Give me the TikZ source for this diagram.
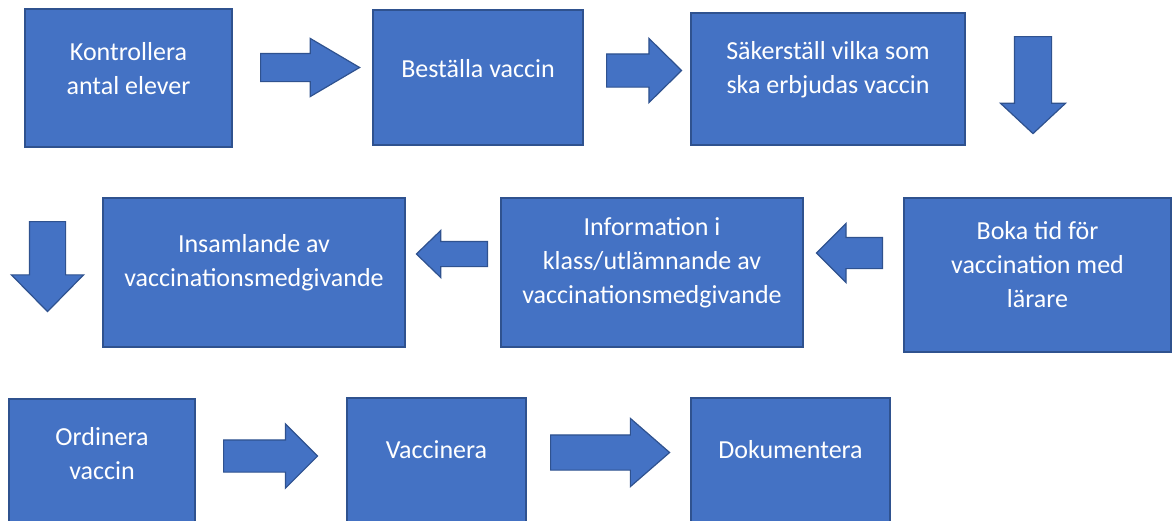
\documentclass[tikz,border=0pt]{standalone}
\usepackage{fontspec}
\setmainfont{Carlito}
\usetikzlibrary{shapes.arrows}
\definecolor{boxfill}{HTML}{4472C4}
\definecolor{boxline}{HTML}{2F528F}
\tikzset{
  box/.style={rectangle, draw=boxline, fill=boxfill, line width=1pt, inner sep=0pt},
  boxtext/.style={text=white, align=center, inner sep=0pt, font=\fontsize{13}{17}\selectfont},
  blockarrow/.style={single arrow, draw=boxline, fill=boxfill, line width=0.6pt, inner xsep=0pt, anchor=tail},
}
\begin{document}
\begin{tikzpicture}[x=0.5pt, y=-0.5pt]
\useasboundingbox (0,0) rectangle (1173,520);
\node[box, minimum width=103.5pt, minimum height=69pt] (b1) at (128.5,78){};
\node[boxtext] (t1) at (128.5,69){Kontrollera\\antal elever};
\node[box, minimum width=105pt, minimum height=67.5pt] (b2) at (478,77.5){};
\node[boxtext] (t2) at (478,69){Beställa vaccin};
\node[box, minimum width=137pt, minimum height=66pt] (b3) at (828,79){};
\node[boxtext] (t3) at (828,70){Säkerställ vilka som\\ska erbjudas vaccin};
\node[box, minimum width=133.5pt, minimum height=77pt] (b4) at (1037.5,275){};
\node[boxtext] (t4) at (1037.5,265){Boka tid för\\vaccination med\\lärare};
\node[box, minimum width=151pt, minimum height=74.5pt] (b5) at (652,272.5){};
\node[boxtext] (t5) at (652,263){Information i\\klass/utlämnande av\\vaccinationsmedgivande};
\node[box, minimum width=151pt, minimum height=74.5pt] (b6) at (254,272.5){};
\node[boxtext] (t6) at (254,263){Insamlande av\\vaccinationsmedgivande};
\node[box, minimum width=93pt, minimum height=65pt] (b7) at (102,464){};
\node[boxtext] (t7) at (102,453.5){Ordinera\\vaccin};
\node[box, minimum width=89.5pt, minimum height=65pt] (b8) at (436.5,463){};
\node[boxtext] (t8) at (436.5,450){Vaccinera};
\node[box, minimum width=99.5pt, minimum height=65pt] (b9) at (790.5,463){};
\node[boxtext] (t9) at (790.5,450){Dokumentera};
% block arrows between the steps
\node[blockarrow, inner ysep=6.75pt, minimum height=49.5pt, single arrow head extend=7.5pt, single arrow tip angle=61] (a1) at (260,67.5){};
\node[blockarrow, inner ysep=8pt, minimum height=37.5pt, single arrow head extend=7.75pt, single arrow tip angle=89] (a2) at (606,70.5){};
\node[blockarrow, rotate=-90, inner ysep=9pt, minimum height=48.5pt, single arrow head extend=7pt, single arrow tip angle=94] (a3) at (1033,36){};
\node[blockarrow, rotate=180, inner ysep=7.5pt, minimum height=33pt, single arrow head extend=7pt, single arrow tip angle=90] (a6) at (883,253){};
\node[blockarrow, rotate=180, inner ysep=6pt, minimum height=35.5pt, single arrow head extend=5.5pt, single arrow tip angle=88] (a5) at (488,254){};
\node[blockarrow, rotate=-90, inner ysep=8.75pt, minimum height=45pt, single arrow head extend=9pt, single arrow tip angle=89] (a4) at (47.5,221){};
\node[blockarrow, inner ysep=7.75pt, minimum height=47pt, single arrow head extend=8pt, single arrow tip angle=90] (a7) at (223,456){};
\node[blockarrow, inner ysep=8.5pt, minimum height=59.5pt, single arrow head extend=8.25pt, single arrow tip angle=82] (a8) at (550,452.5){};
\end{tikzpicture}
\end{document}
